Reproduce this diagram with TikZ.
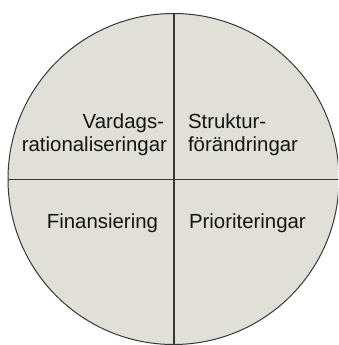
\documentclass[tikz,border=0pt]{standalone}
\usepackage{fontspec}
\setmainfont{Liberation Sans}
\definecolor{quadfill}{RGB}{224,224,216}
\definecolor{edge}{RGB}{55,55,55}
\definecolor{txt}{RGB}{20,20,20}
\begin{document}
\begin{tikzpicture}[x=1pt,y=-1pt,
  label/.style={inner sep=0pt, outer sep=0pt, text=txt, font=\fontsize{20.4}{24}\selectfont},
  divider/.style={draw=edge, line width=1.4pt}]
\useasboundingbox (0,0) rectangle (338,345);
\begin{scope}
\clip (0,0) rectangle (338,345);
\node[circle, draw=edge, line width=1pt, fill=quadfill, minimum size=331pt, inner sep=0pt] (c) at (173.5,179) {};
\draw[divider] (c.north -| 174,0) -- (c.south -| 174,0);
\draw[divider] (c.west |- 0,179.5) -- (c.east |- 0,179.5);
\end{scope}
\node[label, anchor=base east] (v1) at (164,128) {Vardags-};
\node[label, anchor=base east] (v2) at (167,151) {rationaliseringar};
\node[label, anchor=base west] (s1) at (188,128) {Struktur-};
\node[label, anchor=base west] (s2) at (188,151) {förändringar};
\node[label, anchor=base east] (f) at (158,228) {Finansiering};
\node[label, anchor=base west] (p) at (189,228) {Prioriteringar};
\end{tikzpicture}
\end{document}
